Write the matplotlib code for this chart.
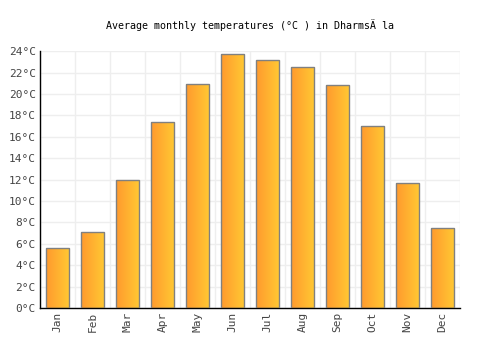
import matplotlib
matplotlib.use("Agg")
import matplotlib.pyplot as plt
import numpy as np
from matplotlib.colors import LinearSegmentedColormap

months = ["Jan", "Feb", "Mar", "Apr", "May", "Jun", "Jul", "Aug", "Sep", "Oct", "Nov", "Dec"]
temps = [5.6, 7.1, 12.0, 17.4, 20.9, 23.7, 23.2, 22.5, 20.8, 17.0, 11.7, 7.5]
yticks = list(range(0, 25, 2))
ytick_labels = [f"{v}°C" for v in yticks]
title = "Average monthly temperatures (°C ) in DharmsÄ la"

plt.rcParams['font.family'] = ['DejaVu Sans Mono']
fig = plt.figure(figsize=(5, 3.5), dpi=100)
ax = fig.add_axes([0.08, 0.12, 0.84, 0.734])

x = np.arange(len(months))
bars = ax.bar(x, temps, width=0.66, facecolor='none', edgecolor='#808080', linewidth=1.0, zorder=3)
cmap = LinearSegmentedColormap.from_list("g", ["#FF9A2E", "#FFC933"])
grad = np.linspace(0, 1, 64).reshape(1, -1)
for b in bars:
    x0, y0 = b.get_x(), b.get_y()
    w, h = b.get_width(), b.get_height()
    im = ax.imshow(grad, cmap=cmap, extent=[x0, x0 + w, y0, y0 + h], aspect='auto', zorder=2)
    im.set_clip_path(b)

ax.set_xlim(-0.5, len(months) - 0.5)
ax.set_ylim(0, 24)
ax.set_xticks(x)
ax.set_xticklabels(months, rotation=90, fontsize=8, color='#444444')
ax.set_yticks(yticks)
ax.set_yticklabels(ytick_labels, fontsize=8, color='#444444')
ax.set_xticks(np.arange(-0.5, len(months), 1), minor=True)
ax.grid(True, which='minor', axis='x', color='#eeeeee', linewidth=1, zorder=0)
ax.grid(True, which='major', axis='y', color='#eeeeee', linewidth=1, zorder=0)
ax.tick_params(axis='both', which='both', length=0, pad=3)
for s in ['top', 'right']:
    ax.spines[s].set_visible(False)
for s in ['left', 'bottom']:
    ax.spines[s].set_color('black')
    ax.spines[s].set_linewidth(1)
ax.set_axisbelow(True)
fig.text(0.5, 0.928, title, ha='center', va='center', fontsize=7.2, color='black')
fig.savefig("out.png", dpi=100)
